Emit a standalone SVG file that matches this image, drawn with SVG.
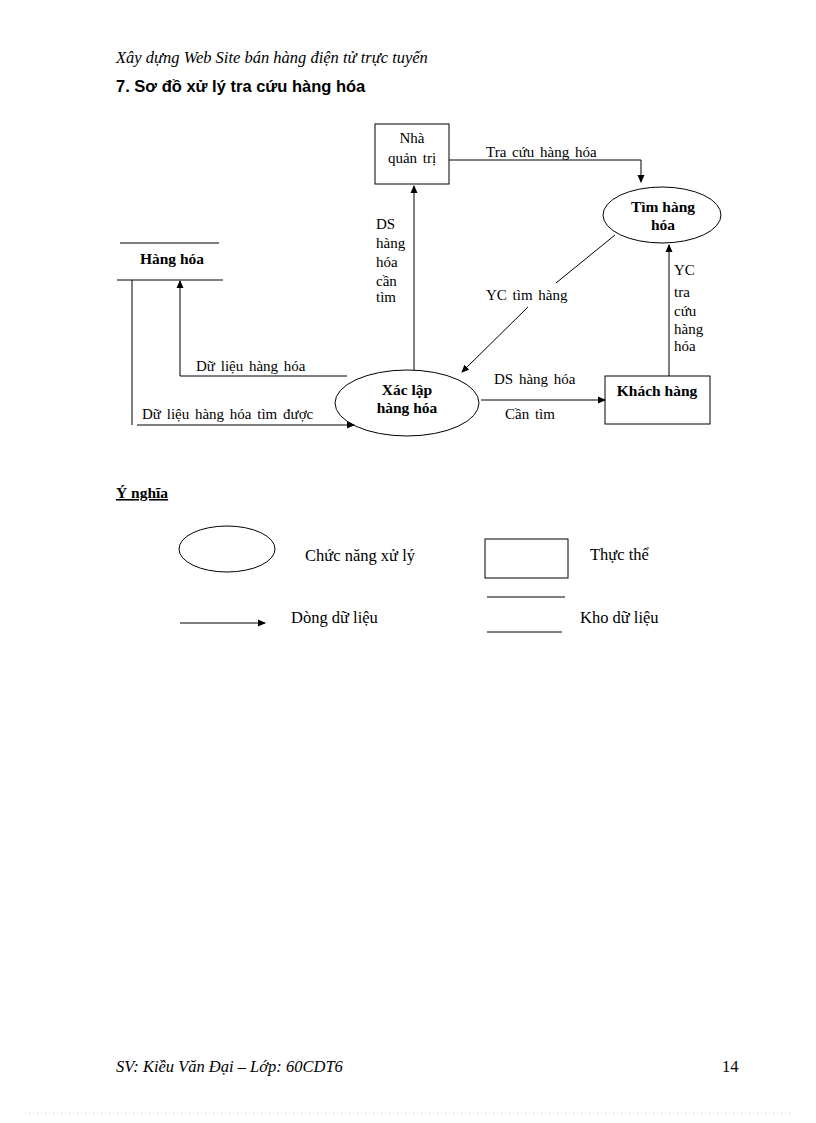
<svg xmlns="http://www.w3.org/2000/svg" width="816" height="1123" viewBox="0 0 816 1123">
<defs><marker id="a" markerWidth="8" markerHeight="8" refX="7" refY="4" orient="auto" markerUnits="userSpaceOnUse"><path d="M0,0.5 L8,4 L0,7.5z" fill="#000"/></marker></defs>
<style>
text{font-family:"Liberation Serif",serif;font-size:14px;fill:#000}
.b{font-weight:bold;font-size:15.5px}
.l{font-size:15px;word-spacing:2px}
.g{font-size:16.5px}
.s{fill:none;stroke:#000;stroke-width:1}
.c line,.c path{fill:none;stroke:#000;stroke-width:1}
</style>
<rect width="816" height="1123" fill="#fff"/>
<text x="116" y="63" font-style="italic" class="g">Xây dựng Web Site bán hàng điện tử trực tuyến</text>
<text x="116" y="92" style="font-family:'Liberation Sans',sans-serif;font-size:16.5px;font-weight:bold">7.  Sơ đồ xử lý tra cứu hàng hóa</text>
<g id="nhaquantri"><rect class="s" x="375" y="124" width="74" height="60"/><text x="412" y="143" text-anchor="middle" class="l">Nhà</text><text x="412" y="163" text-anchor="middle" class="l">quản trị</text></g>
<g id="timhanghoa"><ellipse class="s" cx="662" cy="215" rx="59" ry="28"/><text x="663" y="212" class="b" text-anchor="middle">Tìm hàng</text><text x="663" y="230" class="b" text-anchor="middle">hóa</text></g>
<g id="hanghoa"><line class="s" x1="120" y1="243" x2="219" y2="243"/><line class="s" x1="117" y1="280" x2="223" y2="280"/><text x="172" y="264" class="b" text-anchor="middle">Hàng hóa</text></g>
<g id="xaclap"><ellipse class="s" cx="407" cy="403" rx="72" ry="33"/><text x="407" y="395" class="b" text-anchor="middle">Xác lập</text><text x="407" y="413" class="b" text-anchor="middle">hàng hóa</text></g>
<g id="khachhang"><rect class="s" x="605" y="376" width="105" height="48"/><text x="657" y="396" class="b" text-anchor="middle">Khách hàng</text></g>
<g id="connectors" class="c">
<path d="M449,160 H641 V182" marker-end="url(#a)"/>
<line x1="414" y1="370" x2="414" y2="186" marker-end="url(#a)"/>
<line x1="615" y1="235" x2="556" y2="283"/>
<line x1="528" y1="307" x2="462" y2="372" marker-end="url(#a)"/>
<line x1="669" y1="376" x2="669" y2="245" marker-end="url(#a)"/>
<path d="M347,376 H180 V281" marker-end="url(#a)"/>
<line x1="132" y1="280" x2="132" y2="425"/>
<line x1="137" y1="425" x2="354" y2="425" marker-end="url(#a)"/>
<line x1="481" y1="400" x2="605" y2="400" marker-end="url(#a)"/>
</g>
<g id="labels" class="l">
<text class="l" x="486" y="157">Tra cứu hàng  hóa</text>
<text class="l" x="376" y="229">DS</text><text class="l" x="376" y="248">hàng</text><text class="l" x="376" y="267">hóa</text><text class="l" x="376" y="286">cần</text><text class="l" x="376" y="302">tìm</text>
<text class="l" x="486" y="300">YC tìm hàng</text>
<text class="l" x="674" y="275">YC</text><text class="l" x="674" y="297">tra</text><text class="l" x="674" y="316">cứu</text><text class="l" x="674" y="334">hàng</text><text class="l" x="674" y="351">hóa</text>
<text class="l" x="196" y="371">Dữ liệu  hàng  hóa</text>
<text class="l" x="142" y="419">Dữ liệu  hàng  hóa  tìm  được</text>
<text class="l" x="494" y="384">DS hàng  hóa</text>
<text class="l" x="505" y="419">Cần tìm</text>
</g>
<text x="116" y="498" class="b" font-size="16.5" text-decoration="underline">Ý nghĩa</text>
<g id="legend">
<ellipse class="s" cx="227" cy="549" rx="48" ry="23"/><text class="g" x="305" y="561">Chức năng xử lý</text>
<rect class="s" x="485" y="539" width="83" height="39"/><text class="g" x="590" y="560">Thực thể</text>
<line class="s" x1="180" y1="623" x2="265" y2="623" marker-end="url(#a)"/><text class="g" x="291" y="623">Dòng dữ liệu</text>
<line class="s" x1="487" y1="597" x2="565" y2="597"/><line class="s" x1="487" y1="632" x2="562" y2="632"/><text class="g" x="580" y="623">Kho dữ liệu</text>
</g>
<text x="116" y="1072" font-style="italic" class="g">SV: Kiều Văn Đại – Lớp: 60CDT6</text>
<text x="722" y="1072" class="g">14</text>
<line x1="25" y1="1113" x2="790" y2="1113" stroke="#ccc" stroke-dasharray="1,3"/>
</svg>
